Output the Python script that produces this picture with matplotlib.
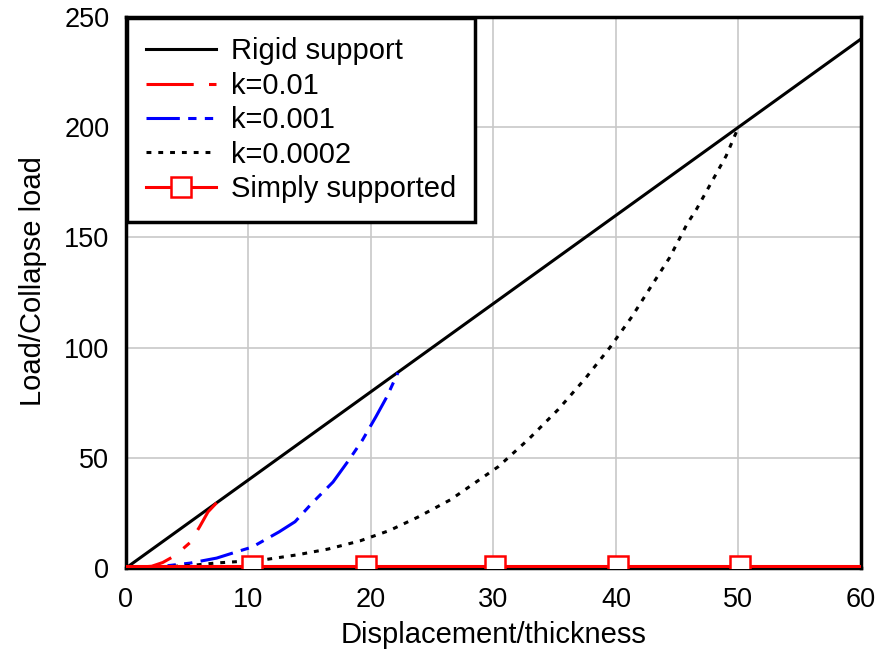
import numpy as np
from matplotlib import pyplot as plt

plt.rcParams['font.family'] = ['Liberation Sans', 'DejaVu Sans']
plt.rcParams['lines.scale_dashes'] = False

# rigid support: straight line through the origin
rigid_x = [0, 60]
rigid_y = [0, 240]

# k=0.01
k1_x = [0, 2.1, 3.0, 3.8, 4.5, 5.2, 6.0, 6.7, 7.4]
k1_y = [0, 0.8, 2.5, 5.0, 8.0, 11.4, 18.6, 25.5, 29.6]

# k=0.001
k2_x = [0, 3.0, 5.2, 7.4, 9.0, 10.3, 12.5, 13.8, 15.2, 16.9, 18.2, 19.3, 20.4, 21.3, 22.2]
k2_y = [0, 0.8, 2.2, 4.5, 7.3, 9.5, 16.4, 21.0, 29.5, 39.0, 49.0, 58.0, 68.6, 77.7, 88.6]

# k=0.0002
k3_x = [0, 5, 7.4, 11.1, 14.0, 16.5, 19.1, 21.5, 23.8, 26.5, 29.1, 30.4, 32.9, 35.3,
        37.5, 39.5, 41.3, 42.9, 44.4, 45.8, 46.6, 48.0, 49.0, 50.0]
k3_y = [0, 1.0, 2.3, 3.6, 6.0, 8.6, 12.3, 17.0, 23.0, 31.0, 41.0, 46.0, 58.6, 72.0,
        86.0, 100.0, 114.0, 128.0, 141.0, 156.0, 163.0, 177.0, 187.0, 200.0]

# simply supported
ss_x = [0, 10.3, 19.6, 30.1, 40.2, 50.1, 60]
ss_y = [1.0, 1.0, 1.0, 1.0, 1.0, 1.0, 1.0]

fig = plt.figure(figsize=(8.78, 6.55), dpi=100)
ax = fig.add_axes([0.1435, 0.1328, 0.837, 0.8412])

ax.plot(rigid_x, rigid_y, color='black', lw=2.2, label='Rigid support')
ax.plot(k1_x, k1_y, color='red', lw=2.2, dashes=(34, 11, 6, 11), label='k=0.01')
ax.plot(k2_x, k2_y, color='blue', lw=2.2, dashes=(24, 6, 6, 6, 6, 6), label='k=0.001')
ax.plot(k3_x, k3_y, color='black', lw=2.2, dashes=(3.5, 5), label='k=0.0002')
ax.plot(ss_x, ss_y, color='red', lw=2.2, marker='s', markersize=15,
        markerfacecolor='white', markeredgecolor='red', markeredgewidth=1.8,
        markevery=[1, 2, 3, 4, 5], label='Simply supported', zorder=3)

ax.set_xlim(0, 60)
ax.set_ylim(0, 250)
ax.set_xticks(np.arange(0, 61, 10))
ax.set_yticks(np.arange(0, 251, 50))
ax.grid(True, color='#c8c8c8', lw=1.2)
ax.set_axisbelow(True)
ax.tick_params(length=0, labelsize=19.5)
ax.tick_params(axis='x', pad=14)
ax.tick_params(axis='y', pad=12)
for sp in ax.spines.values():
    sp.set_linewidth(2.5)
    sp.set_color('black')
    sp.set_zorder(2.5)

ax.set_xlabel('Displacement/thickness', fontsize=21)
ax.set_ylabel('Load/Collapse load', fontsize=21)
ax.xaxis.set_label_coords(0.5, -0.097)
ax.yaxis.set_label_coords(-0.108, 0.52)

leg = ax.legend(loc='upper left', fontsize=21, frameon=True, fancybox=False,
                borderaxespad=0.05, handlelength=2.4, handletextpad=0.5,
                labelspacing=0.22, borderpad=0.65)
leg.get_frame().set_edgecolor('black')
leg.get_frame().set_linewidth(2.5)
leg.get_frame().set_alpha(1)

fig.savefig('out.png', dpi=100)
